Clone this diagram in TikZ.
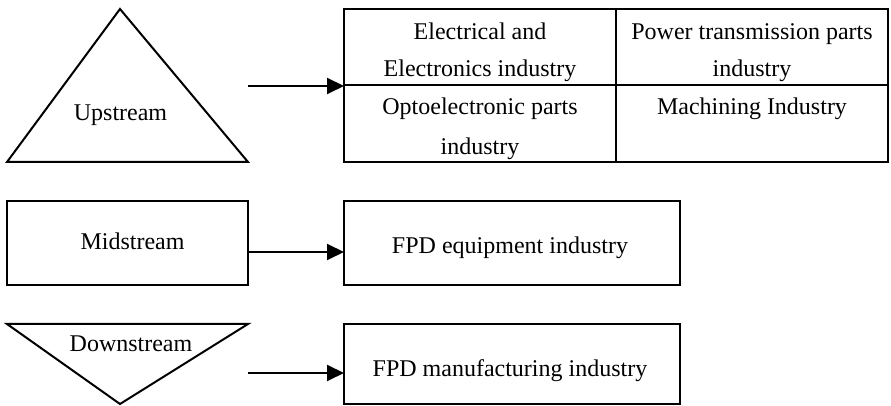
\documentclass[tikz,border=0pt]{standalone}
\usepackage{fontspec}
\setmainfont{Liberation Serif}
\usetikzlibrary{arrows.meta}
\begin{document}
\begin{tikzpicture}[x=0.5pt,y=-0.5pt,line width=1pt,
  every node/.style={font=\fontsize{12}{19}\selectfont},
  box/.style={draw,rectangle,inner sep=0pt,outer sep=0pt},
  txt/.style={inner sep=0pt,anchor=base,align=center},
  conn/.style={-{Triangle[length=8.5pt,width=8pt]}}]
\useasboundingbox (0,0) rectangle (891,406);
% shapes
\draw[line join=miter] (120,9) -- (248,162) -- (7,162) -- cycle;
\draw[line join=miter] (7,324) -- (248,324) -- (120,404) -- cycle;
\node[box,minimum width=120.5pt,minimum height=42pt] (mid) at (127.5,243) {};
\node[box,minimum width=272pt,minimum height=76.5pt] (tab) at (616,85.5) {};
\draw (tab.west) -- (tab.east);
\draw (tab.north) -- (tab.south);
\node[box,minimum width=168pt,minimum height=42pt] (equip) at (512,243) {};
\node[box,minimum width=168pt,minimum height=40pt] (manuf) at (512,364) {};
% texts
\node[txt] (tup) at (120.5,121) {Upstream};
\node[txt] (tmid) at (132.5,250) {Midstream};
\node[txt] (tdown) at (131,352) {Downstream};
\node[txt,font=\fontsize{12}{18.5}\selectfont] (c1) at (480,77) {Electrical and\\Electronics industry};
\node[txt,font=\fontsize{12}{18.5}\selectfont] (c2) at (752,77) {Power transmission parts\\industry};
\node[txt,font=\fontsize{12}{20}\selectfont] (c3) at (480,155) {Optoelectronic parts\\industry};
\node[txt] (c4) at (752,115) {Machining Industry};
\node[txt] (tequip) at (510,254) {FPD equipment industry};
\node[txt] (tmanuf) at (510,377) {FPD manufacturing industry};
% connectors
\coordinate (s1) at (248,86);
\coordinate (s2) at (248,252);
\coordinate (s3) at (248,373);
\draw[conn] (s1) -- (tab.west |- s1);
\draw[conn] (s2) -- (equip.west |- s2);
\draw[conn] (s3) -- (manuf.west |- s3);
\end{tikzpicture}
\end{document}
